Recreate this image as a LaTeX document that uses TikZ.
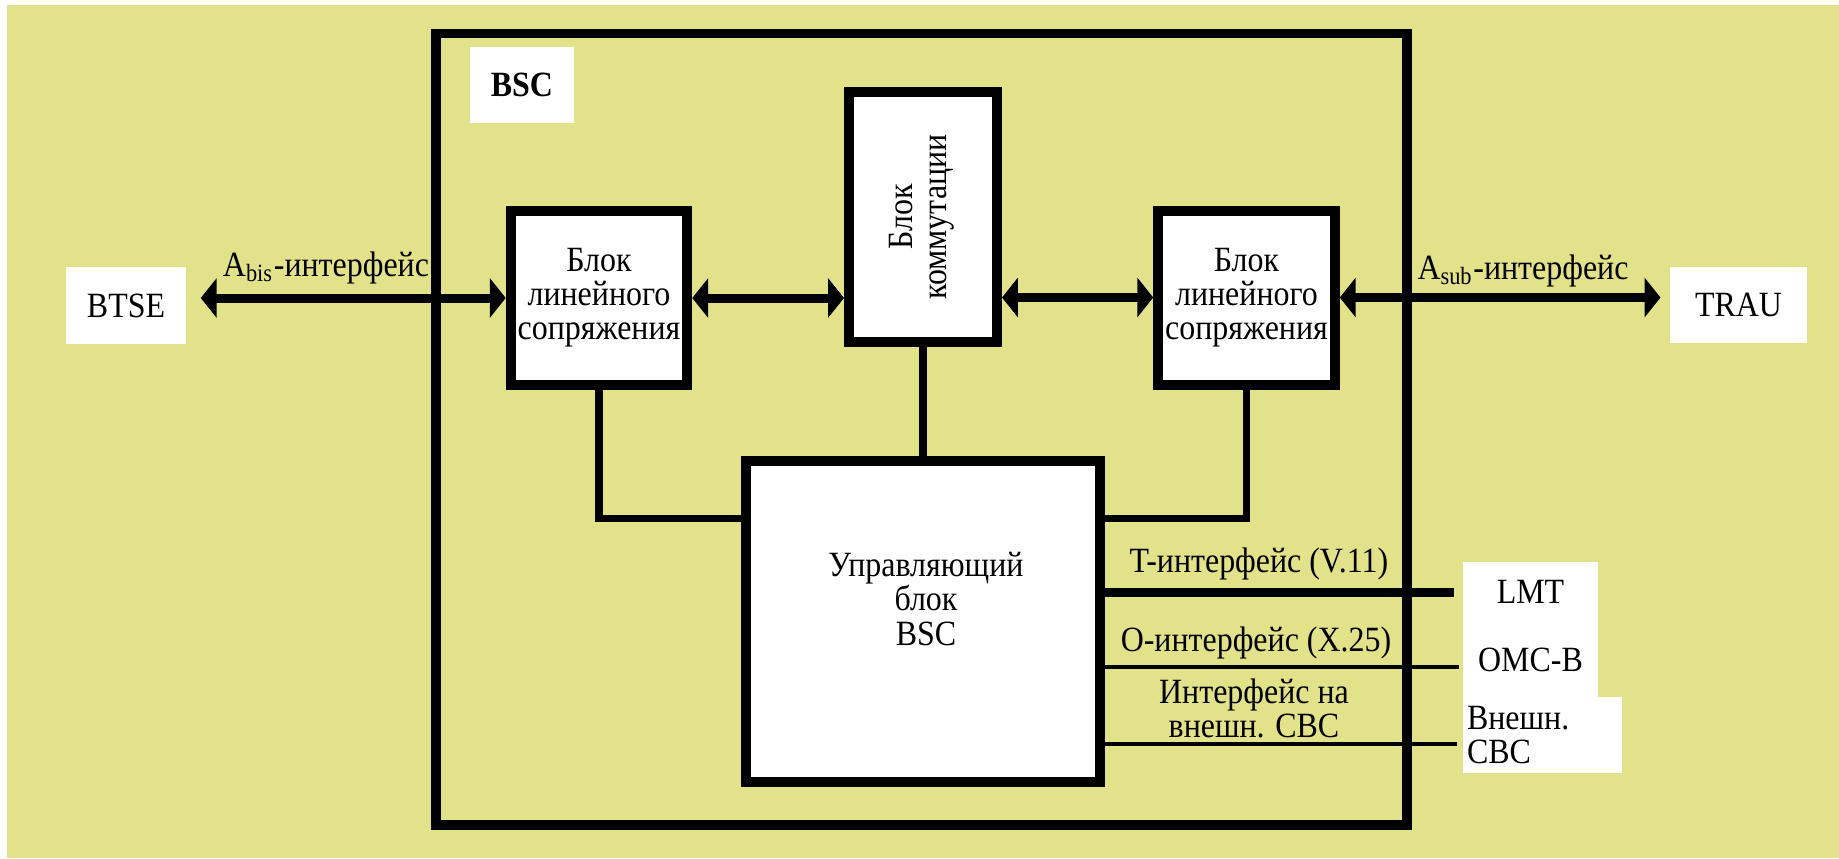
\documentclass[tikz,border=0pt]{standalone}
\usepackage{fontspec}
\setmainfont{Liberation Serif}[FakeStretch=0.9]
\usepackage{graphicx}
\usetikzlibrary{arrows.meta}
\usetikzlibrary{calc}
\definecolor{bgyellow}{RGB}{226,226,138}

\begin{document}
\begin{tikzpicture}[x=0.1mm,y=-0.1mm,
  font=\fontsize{10.1pt}{9.7pt}\selectfont,
  >={Triangle[length=4.5pt,width=11pt]},
  blk/.style={draw,line width=2.85pt,fill=white,align=center,inner sep=0pt},
  ext/.style={fill=white,inner sep=0pt,align=center},
  bus/.style={<->,line width=2.55pt},
  wire/.style={line width=2pt},
  tline/.style={line width=2.55pt},
  oline/.style={line width=1.4pt}]
  \useasboundingbox (0,0) rectangle (1839,858);
  \fill[white] (0,0) rectangle (1839,858);
  \fill[bgyellow] (7,5) rectangle (1839,858);

  % BSC
  \draw[line width=2.7pt] (436,33.5) rectangle (1407,825);
  \node[ext,minimum width=10.45mm,minimum height=7.65mm,font=\fontsize{10.1pt}{9.7pt}\selectfont\bfseries] (bsclbl) at (522,85) {BSC};

  % внешние блоки
  \node[ext,minimum width=12mm,minimum height=7.7mm] (btse) at (126,305.5) {BTSE};
  \node[ext,minimum width=13.7mm,minimum height=7.6mm] (trau) at (1738.5,305) {TRAU};
  \node[ext,minimum width=13.5mm,minimum height=6mm] (lmt) at (1530.5,592) {LMT};
  \node[ext,minimum width=13.5mm,minimum height=7.5mm] (omc) at (1530.5,659.5) {OMC-B};
  \node[ext,align=left,text width=15.1mm,inner xsep=0.4mm,minimum height=7.6mm] (cbc) at (1542.5,735) {Внешн.\\CBC};

  % блоки BSC
  \node[blk,minimum width=17.65mm,minimum height=17.4mm] (lsL) at (599,298) {Блок\\линейного\\сопряжения};
  \node[blk,minimum width=17.65mm,minimum height=17.4mm] (lsR) at (1246.5,297.5) {Блок\\линейного\\сопряжения};
  \node[blk,minimum width=14.8mm,minimum height=25mm] (komm) at (923,217)
    {\rotatebox{90}{\begin{tabular}{@{}c@{}}Блок\\коммутации\end{tabular}}};
  \node[blk,minimum width=35.4mm,minimum height=32.1mm] (ctl) at (923,621.5) {};
  \node[align=center] at (926,599) {Управляющий\\блок\\BSC};

  % шины
  \draw[bus,shorten >=4pt] (lsL.west) -- (lsL.west -| btse.east);
  \draw[bus] (lsL.east) -- (lsL.east -| komm.west);
  \draw[bus] (komm.east |- lsR.west) -- (lsR.west);
  \draw[bus,shorten >=2.5pt] (lsR.east) -- (lsR.east -| trau.west);
  \node at (326,268) {A\textsubscript{bis}-интерфейс};
  \node at (1523,271) {A\textsubscript{sub}-интерфейс};

  % связи с управляющим блоком
  \draw[wire] (lsL.south) |- ($(ctl.north west)!0.19!(ctl.south west)$);
  \draw[wire] (lsR.south) |- ($(ctl.north east)!0.19!(ctl.south east)$);
  \draw[wire] (komm.south) -- (ctl.north);

  % интерфейсы
  \draw[tline,shorten >=2.5pt] (ctl.east |- lmt.west) -- (lmt.west);
  \draw[oline,shorten >=1pt] ($(ctl.east |- omc.west)+(0,7.5)$) -- ($(omc.west)+(0,7.5)$);
  \draw[oline,shorten >=1.4pt] ($(ctl.east |- cbc.west)+(0,9)$) -- ($(cbc.west)+(0,9)$);
  \node at (1259,564) {T-интерфейс (V.11)};
  \node at (1256,643) {O-интерфейс (X.25)};
  \node[align=center] at (1254,708) {Интерфейс на\\внешн. CBC};
\end{tikzpicture}
\end{document}
